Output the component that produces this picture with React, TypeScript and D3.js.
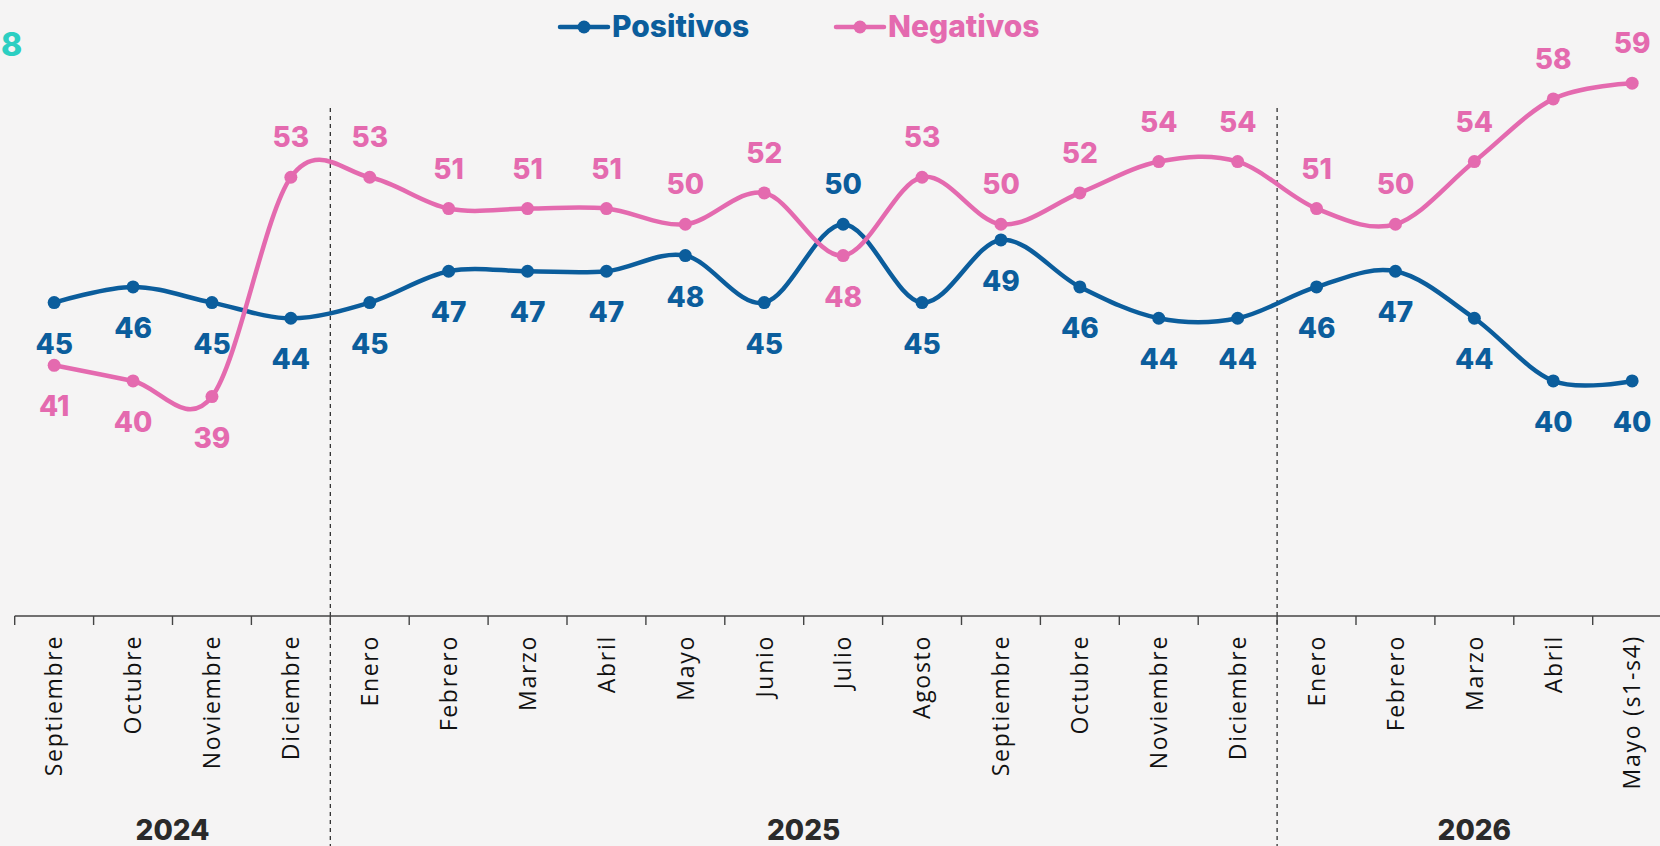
import React from "react";
import * as d3 from "d3";

const categories = [
  "Septiembre", "Octubre", "Noviembre", "Diciembre",
  "Enero", "Febrero", "Marzo", "Abril", "Mayo", "Junio", "Julio", "Agosto",
  "Septiembre", "Octubre", "Noviembre", "Diciembre",
  "Enero", "Febrero", "Marzo", "Abril", "Mayo (s1-s4)",
];
const positivos = [45, 46, 45, 44, 45, 47, 47, 47, 48, 45, 50, 45, 49, 46, 44, 44, 46, 47, 44, 40, 40];
const negativos = [41, 40, 39, 53, 53, 51, 51, 51, 50, 52, 48, 53, 50, 52, 54, 54, 51, 50, 54, 58, 59];
// label placement: "a" = above the point, "b" = below
const positivosLabelSide = ["b", "b", "b", "b", "b", "b", "b", "b", "b", "b", "a", "b", "b", "b", "b", "b", "b", "b", "b", "b", "b"];
const negativosLabelSide = ["b", "b", "b", "a", "a", "a", "a", "a", "a", "a", "b", "a", "a", "a", "a", "a", "a", "a", "a", "a", "a"];
const yearLabels = ["2024", "2025", "2026"];
const yearCounts = [4, 12, 5];

const W = 1660;
const H = 846;
const BLUE = "#0b5d9c";
const PINK = "#e46aaf";
const BG = "#f5f4f4";
const NUM_FONT = "Inter, 'Noto Sans', sans-serif";
const AX_FONT = "'Open Sans', 'Noto Sans', sans-serif";

export default function App() {
  const step = 78.9;
  const x0 = 14.7;
  const x = d3
    .scaleBand<number>()
    .domain(categories.map((_, i) => i))
    .range([x0, x0 + step * categories.length])
    .padding(0);
  const axisY = 616;
  const y = d3.scaleLinear().domain([25, 65]).range([axisY, axisY - 40 * 15.67]);
  const cx = (i: number) => (x(i) as number) + x.bandwidth() / 2;

  const line = d3
    .line<number>()
    .x((_, i) => cx(i))
    .y((v) => y(v))
    .curve(d3.curveCardinal.tension(0));

  const starts: number[] = [];
  let acc = 0;
  yearCounts.forEach((c) => {
    starts.push(acc);
    acc += c;
  });
  const dividers = starts.slice(1).map((s) => x(s) as number);

  const series = [
    { name: "Positivos", values: positivos, side: positivosLabelSide, color: BLUE },
    { name: "Negativos", values: negativos, side: negativosLabelSide, color: PINK },
  ];

  const legend = [
    { name: "Positivos", color: BLUE, lx: 560 },
    { name: "Negativos", color: PINK, lx: 836 },
  ];

  return (
    <svg
      width={W}
      height={H}
      style={{ position: "absolute", left: 0, top: 0, display: "block" }}
    >
      <rect x={0} y={0} width={W} height={H} fill={BG} />

      <text x={1} y={56} fontFamily={NUM_FONT} fontWeight={800} fontSize={32} fill="#2ccfc2">
        8
      </text>

      {legend.map((l) => (
        <g key={l.name}>
          <line x1={l.lx} x2={l.lx + 48} y1={27} y2={27} stroke={l.color} strokeWidth={4.5} strokeLinecap="round" />
          <circle cx={l.lx + 24} cy={27} r={6.5} fill={l.color} />
          <text x={l.lx + 52} y={37} fontFamily={NUM_FONT} fontWeight={800} fontSize={30} fill={l.color}>
            {l.name}
          </text>
        </g>
      ))}

      {dividers.map((dx, i) => (
        <line key={i} x1={dx} x2={dx} y1={108} y2={H} stroke="#222" strokeWidth={1.2} strokeDasharray="4 4" />
      ))}

      <line x1={x0} x2={W} y1={axisY} y2={axisY} stroke="#444" strokeWidth={1.4} />
      {categories.map((_, i) => (
        <line key={i} x1={x(i) as number} x2={x(i) as number} y1={axisY} y2={axisY + 9} stroke="#444" strokeWidth={1.4} />
      ))}
      {categories.map((c, i) => (
        <text
          key={i}
          transform={`translate(${cx(i)},${axisY + 19}) rotate(-90)`}
          textAnchor="end"
          dy="0.36em"
          fontFamily={AX_FONT}
          fontSize={23}
          letterSpacing={1.7}
          fill="#111"
        >
          {c}
        </text>
      ))}

      {yearLabels.map((yl, k) => {
        const s = starts[k];
        const e = s + yearCounts[k] - 1;
        const mid = ((x(s) as number) + (x(e) as number) + x.bandwidth()) / 2;
        return (
          <text key={yl} x={mid} y={840} textAnchor="middle" fontFamily={NUM_FONT} fontWeight={800} fontSize={28} fill="#2a2a2a">
            {yl}
          </text>
        );
      })}

      {series.map((s) => (
        <path key={s.name} d={line(s.values) || ""} fill="none" stroke={s.color} strokeWidth={4.5} />
      ))}
      {series.map((s) =>
        s.values.map((v, i) => <circle key={s.name + i} cx={cx(i)} cy={y(v)} r={6.5} fill={s.color} />)
      )}

      {series.map((s) =>
        s.values.map((v, i) => {
          const above = s.side[i] === "a";
          return (
            <text
              key={s.name + "l" + i}
              x={cx(i)}
              y={above ? y(v) - 30 : y(v) + 51}
              textAnchor="middle"
              fontFamily={NUM_FONT}
              fontWeight={800}
              fontSize={28}
              fill={s.color}
            >
              {v}
            </text>
          );
        })
      )}
    </svg>
  );
}
